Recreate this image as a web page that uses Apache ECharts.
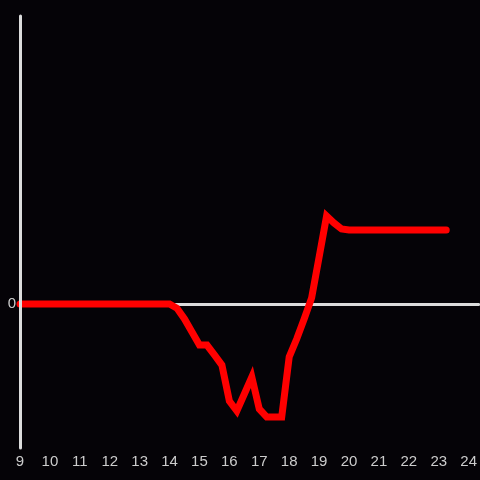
<!DOCTYPE html>
<html>
<head>
<meta charset="utf-8">
<script src="https://cdn.jsdelivr.net/npm/echarts@6/dist/echarts.min.js"></script>
<style>
html,body{margin:0;padding:0;background:#050307;}
#c{width:480px;height:480px;}
</style>
</head>
<body>
<div id="c"></div>
<script>
// Hours (x) and values (y)
var hours = [9, 10, 11, 12, 13, 14, 14.25, 14.5, 14.75, 15, 15.25, 15.5, 15.75, 16, 16.25, 16.5, 16.75, 17, 17.25, 17.5, 17.75, 18, 18.25, 18.5, 18.75, 19, 19.25, 19.5, 19.75, 20, 21, 22, 23, 23.25];
var values = [0, 0, 0, 0, 0, 0, -0.03, -0.104, -0.194, -0.285, -0.285, -0.354, -0.424, -0.674, -0.743, -0.625, -0.507, -0.729, -0.785, -0.785, -0.785, -0.368, -0.243, -0.104, 0.042, 0.326, 0.611, 0.5625, 0.521, 0.514, 0.514, 0.514, 0.514, 0.514];
var xTickLabels = ['9','10','11','12','13','14','15','16','17','18','19','20','21','22','23','24'];

var data = hours.map(function (h, i) { return [h, values[i]]; });
var chart = echarts.init(document.getElementById('c'));
chart.setOption({
  backgroundColor: '#050307',
  animation: false,
  grid: { left: 20, right: 0, top: 16, bottom: 32 },
  xAxis: [{
    type: 'value', min: 9, max: 24 + 1/3, interval: 1,
    position: 'bottom',
    axisLine: { show: false, onZero: false },
    axisTick: { show: false },
    splitLine: { show: false },
    axisLabel: {
      color: '#cccccc', fontSize: 15, margin: 6, showMaxLabel: false,
      fontFamily: 'sans-serif',
      formatter: function (v) { var i = Math.round(v - 9); return (Math.abs(v - Math.round(v)) < 1e-6 && xTickLabels[i] !== undefined) ? xTickLabels[i] : ''; }
    }
  }, {
    type: 'value', min: 9, max: 24 + 1/3, interval: 1,
    axisLine: { show: true, onZero: true, lineStyle: { color: '#dcdcdc', width: 3 } },
    axisTick: { show: false },
    axisLabel: { show: false },
    splitLine: { show: false }
  }],
  yAxis: {
    type: 'value', min: -1, max: 2, interval: 1,
    z: 5,
    axisLine: { show: true, onZero: false, lineStyle: { color: '#dcdcdc', width: 3 } },
    axisTick: { show: false },
    splitLine: { show: false },
    axisLabel: {
      color: '#cccccc', fontSize: 15, margin: 4, fontFamily: 'sans-serif',
      formatter: function (v) { return v === 0 ? '0' : ''; }
    }
  },
  series: [{
    type: 'line',
    xAxisIndex: 0,
    data: data,
    showSymbol: false,
    symbol: 'none',
    z: 3,
    lineStyle: { color: '#ff0000', width: 7, cap: 'round', join: 'miter' }
  }]
});
</script>
</body>
</html>
